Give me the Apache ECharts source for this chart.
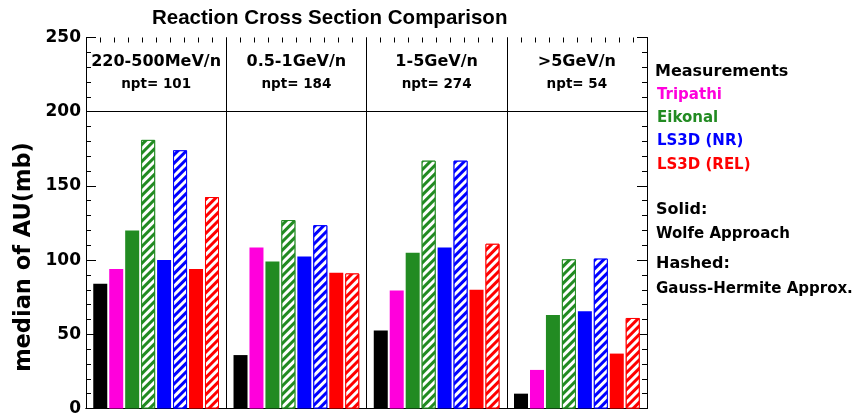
<!DOCTYPE html>
<html>
<head>
<meta charset="utf-8">
<script src="https://cdn.jsdelivr.net/npm/echarts@6/dist/echarts.min.js"></script>
<style>
html,body{margin:0;padding:0;background:#fff;}
#chart{width:852px;height:417px;}
</style>
</head>
<body>
<div id="chart"></div>
<script>
const categories = ['220-500MeV/n', '0.5-1GeV/n', '1-5GeV/n', '>5GeV/n'];
const npt = [101, 184, 274, 54];
const measurements = [84, 36, 52.5, 10];
const tripathi = [94, 108.5, 79.5, 26];
const eikonalWolfe = [120, 99, 105, 63];
const eikonalGH = [181, 127, 167, 100.5];
const ls3dNRWolfe = [100, 102.5, 108.5, 65.5];
const ls3dNRGH = [174, 123.5, 167, 101];
const ls3dRELWolfe = [94, 91.5, 80, 37];
const ls3dRELGH = [142.5, 91, 111, 61];
const yTicks = [0, 50, 100, 150, 200, 250];
const headerLine = 200;

const legendItems = [
  {text: 'Measurements', color: '#000000'},
  {text: 'Tripathi', color: '#ff00dc'},
  {text: 'Eikonal', color: '#228b22'},
  {text: 'LS3D (NR)', color: '#0000ff'},
  {text: 'LS3D (REL)', color: '#ff0000'}
];

const FONT = 'DejaVu Sans';
const chart = echarts.init(document.getElementById('chart'), null, {renderer: 'canvas'});

function hatch() {
  return {
    color: '#ffffff',
    symbol: 'rect',
    symbolSize: 1,
    dashArrayX: [1, 0],
    dashArrayY: [2.5, 2.5],
    rotation: -Math.PI / 4
  };
}

function barSeries(name, data, color, hashed) {
  const s = {
    name: name,
    type: 'bar',
    xAxisIndex: 0,
    yAxisIndex: 0,
    data: data,
    barWidth: 14,
    barGap: '14%',
    itemStyle: {color: color}
  };
  if (hashed) {
    s.itemStyle.borderColor = color;
    s.itemStyle.borderWidth = 1;
    s.itemStyle.decal = hatch();
  }
  return s;
}

const series = [
  barSeries('Measurements', measurements, '#000000', false),
  barSeries('Tripathi', tripathi, '#ff00dc', false),
  barSeries('Eikonal (Wolfe)', eikonalWolfe, '#228b22', false),
  barSeries('Eikonal (Gauss-Hermite)', eikonalGH, '#228b22', true),
  barSeries('LS3D (NR) (Wolfe)', ls3dNRWolfe, '#0000ff', false),
  barSeries('LS3D (NR) (Gauss-Hermite)', ls3dNRGH, '#0000ff', true),
  barSeries('LS3D (REL) (Wolfe)', ls3dRELWolfe, '#ff0000', false),
  barSeries('LS3D (REL) (Gauss-Hermite)', ls3dRELGH, '#ff0000', true)
];
series[0].markLine = {
  silent: true,
  symbol: 'none',
  animation: false,
  label: {show: false},
  lineStyle: {color: '#000', width: 1, type: 'solid'},
  data: [{yAxis: headerLine}]
};

const graphics = [];
legendItems.forEach(function (it, i) {
  graphics.push({
    type: 'text', left: i === 0 ? 655 : 657, top: 64 + i * 23.3,
    style: {text: it.text, fill: it.color, font: 'bold ' + (i === 0 ? 16 : 15) + 'px "' + FONT + '"'}
  });
});
graphics.push({type: 'text', left: 656, top: 202, style: {text: 'Solid:', fill: '#000', font: 'bold 16px "' + FONT + '"'}});
graphics.push({type: 'text', left: 656, top: 227, style: {text: 'Wolfe Approach', fill: '#000', font: 'bold 15px "' + FONT + '"'}});
graphics.push({type: 'text', left: 656, top: 256, style: {text: 'Hashed:', fill: '#000', font: 'bold 16px "' + FONT + '"'}});
graphics.push({type: 'text', left: 656, top: 282, style: {text: 'Gauss-Hermite Approx.', fill: '#000', font: 'bold 15px "' + FONT + '"'}});
graphics.push({
  type: 'text', x: 24, y: 257, rotation: Math.PI / 2,
  style: {text: 'median of AU(mb)', fill: '#000', font: 'bold 22.5px "' + FONT + '"', textAlign: 'center', textVerticalAlign: 'middle'}
});

const option = {
  animation: false,
  backgroundColor: '#ffffff',
  title: {
    text: 'Reaction Cross Section Comparison',
    left: 147, top: 3,
    textStyle: {fontFamily: 'Liberation Sans', fontWeight: 'bold', fontSize: 20.5, color: '#000'}
  },
  grid: {left: 86, right: 205, top: 37.5, bottom: 6, containLabel: false},
  xAxis: [
    {
      type: 'category', position: 'bottom', data: categories, boundaryGap: true,
      axisLine: {show: true, lineStyle: {color: '#000', width: 1}},
      axisTick: {show: false}, axisLabel: {show: false},
      splitLine: {show: true, interval: 0, lineStyle: {color: '#000', width: 1}}
    },
    {
      type: 'category', position: 'top', data: categories, boundaryGap: true,
      axisLine: {show: true, lineStyle: {color: '#000', width: 1}},
      axisTick: {show: false},
      axisLabel: {
        show: true, inside: true, margin: 13, interval: 0,
        formatter: function (v, idx) { return '{a|' + v + '}\n{b|npt= ' + npt[idx] + '}'; },
        rich: {
          a: {fontFamily: FONT, fontWeight: 'bold', fontSize: 16, lineHeight: 22, color: '#000', align: 'center'},
          b: {fontFamily: FONT, fontWeight: 'bold', fontSize: 13.5, lineHeight: 23, color: '#000', align: 'center'}
        }
      },
      splitLine: {show: false}
    },
    {
      type: 'value', position: 'top', min: 0, max: categories.length, interval: 1,
      axisLine: {show: false},
      axisTick: {show: true, inside: true, length: 5, lineStyle: {color: '#000'}},
      minorTick: {show: true, splitNumber: 10, length: 5, lineStyle: {color: '#000'}},
      axisLabel: {show: false}, splitLine: {show: false}
    }
  ],
  yAxis: [
    {
      type: 'value', position: 'left', min: yTicks[0], max: yTicks[yTicks.length - 1], interval: 50,
      axisLine: {show: true, lineStyle: {color: '#000', width: 1}},
      axisTick: {show: true, inside: true, length: 10, lineStyle: {color: '#000'}},
      minorTick: {show: true, splitNumber: 5, length: 5, lineStyle: {color: '#000'}},
      axisLabel: {show: true, margin: 5, fontFamily: FONT, fontWeight: 'bold', fontSize: 17, color: '#000'},
      splitLine: {show: false}
    },
    {
      type: 'value', position: 'right', min: yTicks[0], max: yTicks[yTicks.length - 1], interval: 50,
      axisLine: {show: true, lineStyle: {color: '#000', width: 1}},
      axisTick: {show: true, inside: true, length: 10, lineStyle: {color: '#000'}},
      minorTick: {show: true, splitNumber: 5, length: 5, lineStyle: {color: '#000'}},
      axisLabel: {show: false},
      splitLine: {show: false}
    }
  ],
  graphic: graphics,
  series: series
};
chart.setOption(option);
</script>
</body>
</html>
